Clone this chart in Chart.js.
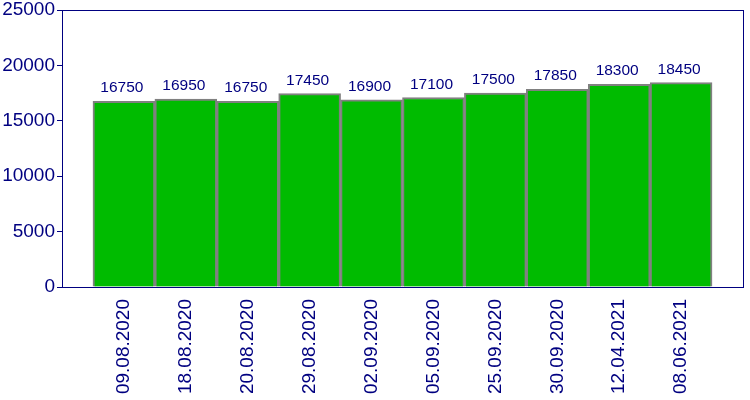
<!DOCTYPE html>
<html>
<head>
<meta charset="utf-8">
<script src="https://cdn.jsdelivr.net/npm/chart.js@4/dist/chart.umd.min.js"></script>
<style>
  html, body { margin: 0; padding: 0; background: #fff; }
  #wrap { width: 750px; height: 400px; }
</style>
</head>
<body>
<div id="wrap"><canvas id="myChart" width="750" height="400"></canvas></div>
<script>
// 날짜 라벨과 값
const dates = ['09.08.2020', '18.08.2020', '20.08.2020', '29.08.2020', '02.09.2020',
               '05.09.2020', '25.09.2020', '30.09.2020', '12.04.2021', '08.06.2021'];
const values = [16750, 16950, 16750, 17450, 16900, 17100, 17500, 17850, 18300, 18450];
const yTicks = [0, 5000, 10000, 15000, 20000, 25000];

const navy = '#000080';
const fontFam = '"Liberation Sans", Arial, sans-serif';

// 차트 영역 테두리 (사각형)
const frameBox = {
    id: 'frameBox',
    afterDatasetsDraw(chart) {
        const a = chart.chartArea;
        const ctx = chart.ctx;
        ctx.save();
        ctx.strokeStyle = navy;
        ctx.lineWidth = 1;
        ctx.strokeRect(Math.round(a.left) + 0.5, Math.round(a.top) + 0.5,
                       Math.round(a.right - a.left), Math.round(a.bottom - a.top));
        ctx.restore();
    }
};

// 막대 위 값 표시
const barLabels = {
    id: 'barLabels',
    afterDatasetsDraw(chart) {
        const ctx = chart.ctx;
        const meta = chart.getDatasetMeta(0);
        ctx.save();
        ctx.fillStyle = navy;
        ctx.font = '15.5px ' + fontFam;
        ctx.textAlign = 'center';
        ctx.textBaseline = 'alphabetic';
        meta.data.forEach((bar, i) => {
            ctx.fillText(String(values[i]), bar.x - 2, bar.y - 9);
        });
        ctx.restore();
    }
};

const points = values.map((v, i) => ({ x: i, y: v }));

new Chart(document.getElementById('myChart'), {
    type: 'bar',
    data: {
        datasets: [{
            data: points,
            backgroundColor: '#00bb00',
            borderColor: '#808080',
            borderWidth: 2,
            barPercentage: 1,
            categoryPercentage: 1
        }]
    },
    options: {
        responsive: false,
        animation: false,
        layout: { padding: { top: 10, right: 7, left: 0, bottom: 0 } },
        plugins: {
            legend: { display: false },
            tooltip: { enabled: false }
        },
        scales: {
            x: {
                type: 'linear',
                offset: false,
                min: -1,
                max: 10,
                afterFit(scale) {
                    scale.height = 113;
                    scale.paddingLeft = 0;
                    scale.paddingRight = 0;
                },
                grid: { display: false },
                border: { display: true, color: navy },
                ticks: {
                    stepSize: 1,
                    autoSkip: false,
                    minRotation: 90,
                    maxRotation: 90,
                    padding: 4,
                    color: navy,
                    font: { size: 19, family: fontFam },
                    callback: v => (v >= 0 && v < dates.length) ? dates[v] : ''
                }
            },
            y: {
                min: 0,
                max: 25000,
                afterFit(scale) {
                    scale.width = 62;
                    scale.paddingTop = 0;
                    scale.paddingBottom = 0;
                },
                afterBuildTicks(scale) { scale.ticks = yTicks.map(v => ({ value: v })); },
                grid: { drawOnChartArea: false, tickLength: 5, color: navy },
                border: { display: true, color: navy },
                ticks: {
                    padding: 2,
                    color: navy,
                    font: { size: 19, family: fontFam },
                    callback: v => String(v)
                }
            }
        }
    },
    plugins: [frameBox, barLabels]
});
</script>
</body>
</html>
